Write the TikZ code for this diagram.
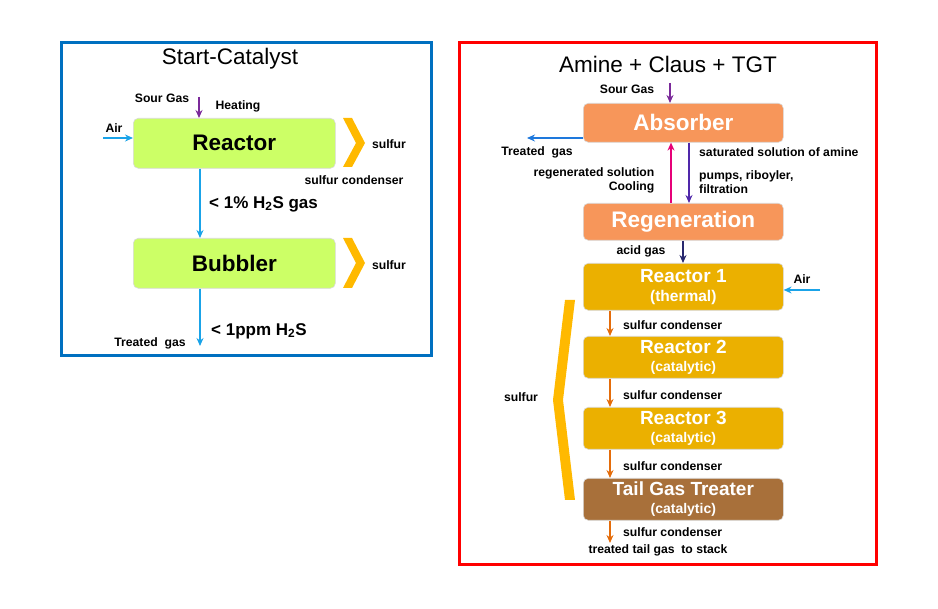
\documentclass[tikz,border=0pt]{standalone}
\usepackage{fontspec}
\setmainfont{Liberation Sans}
\usetikzlibrary{arrows.meta}
\definecolor{lime}{HTML}{CCFF66}
\definecolor{salmon}{HTML}{F7965A}
\definecolor{gold}{HTML}{EBB000}
\definecolor{brownish}{HTML}{A8703A}
\definecolor{chev}{HTML}{FFB900}
\definecolor{sky}{HTML}{1AA3E8}
\definecolor{purp}{HTML}{7B2A9A}
\definecolor{ora}{HTML}{E46C0A}
\definecolor{blueL}{HTML}{0070C0}
\definecolor{blueT}{HTML}{1E78DC}
\definecolor{pinkA}{HTML}{E60078}
\definecolor{violA}{HTML}{5028AA}
\definecolor{navyA}{HTML}{28286E}
\begin{document}
\begin{tikzpicture}[x=1pt,y=-1pt,
 box/.style={rounded corners=5pt,draw=black!15,line width=0.6pt,inner sep=0pt,anchor=north west,minimum width=200pt},
 lbl/.style={font=\bfseries\fontsize{12.2}{14}\selectfont,inner sep=1pt},
 wt/.style={white,font=\bfseries\fontsize{19}{21}\selectfont,align=center},
 sub/.style={font=\fontsize{15}{17}\selectfont},
 arr/.style={-{Stealth[length=8pt,width=7pt]},line width=1.6pt},
 ch/.style={fill=chev,draw=none}]
\useasboundingbox (0,0) rectangle (938,609);
% left panel
\draw[line width=3pt,blueL] (61,43) rectangle (431,356);
\node[font=\fontsize{22.5}{26}\selectfont] (t1) at (230,59) {Start-Catalyst};
\node[box,fill=lime,minimum width=202pt,minimum height=50pt] (re) at (133,118) {};
\node at (re.center) {\bfseries\fontsize{22.5}{26}\selectfont Reactor};
\node[box,fill=lime,minimum width=202pt,minimum height=50pt] (bu) at (133,238) {};
\node at (bu.center) {\bfseries\fontsize{22.5}{26}\selectfont Bubbler};
\fill[ch] (343,118)--(352,118)--(365,143)--(352,167)--(343,167)--(356,143)--cycle;
\fill[ch] (343,238)--(352,238)--(365,263)--(352,288)--(343,288)--(356,263)--cycle;
\node[lbl] (s1) at (389,144) {sulfur};
\node[lbl] (s2) at (389,265) {sulfur};
\node[lbl] (sc) at (354,180) {sulfur condenser};
\node[lbl] (sg) at (162,98) {Sour Gas};
\node[lbl] (he) at (238,106) {Heating};
\node[lbl] (air) at (114,128) {Air};
\coordinate (sgs) at (199,97); \coordinate (sge) at (199,118);
\draw[arr,purp] (sgs)--(sge);
\coordinate (airs) at (103,138);
\draw[arr,sky] (airs)--(re.west|-airs);
\draw[arr,sky] (re.south-|200,0)--(bu.north-|200,0);
\node[lbl,anchor=west,font=\bfseries\fontsize{17}{19}\selectfont] (g1) at (208,204) {< 1\% H\textsubscript{2}S gas};
\coordinate (tg) at (200,346);
\draw[arr,sky] (bu.south-|200,0)--(tg);
\node[lbl,anchor=west,font=\bfseries\fontsize{17}{19}\selectfont] (g2) at (210,331) {< 1ppm H\textsubscript{2}S};
\node[lbl] (tgl) at (150,343) {Treated\ \ gas};
% right panel
\draw[line width=3pt,red] (459,43) rectangle (876,565);
\node[font=\fontsize{22.5}{26}\selectfont] (t2) at (668,64) {Amine + Claus + TGT};
\node[box,fill=salmon,minimum height=39pt] (ab) at (583,103) {};
\node[wt,font=\bfseries\fontsize{22.5}{26}\selectfont] at (ab.center) {Absorber};
\node[box,fill=salmon,minimum height=37pt] (rg) at (583,203) {};
\node[wt,font=\bfseries\fontsize{22.5}{26}\selectfont] at (rg.center) {Regeneration};
\node[box,fill=gold,minimum height=47pt] (r1) at (583,263) {};
\node[wt] at (r1.center) {Reactor 1\\[-2pt]{\fontsize{15.5}{17}\selectfont (thermal)}};
\node[box,fill=gold,minimum height=42pt] (r2) at (583,336) {};
\node[wt] at (r2.center) {Reactor 2\\[-3pt]{\fontsize{14}{16}\selectfont (catalytic)}};
\node[box,fill=gold,minimum height=42pt] (r3) at (583,407) {};
\node[wt] at (r3.center) {Reactor 3\\[-3pt]{\fontsize{14}{16}\selectfont (catalytic)}};
\node[box,fill=brownish,minimum height=42pt] (tt) at (583,478) {};
\node[wt] at (tt.center) {Tail Gas Treater\\[-3pt]{\fontsize{14}{16}\selectfont (catalytic)}};
\fill[ch] (565,300)--(575,300)--(563,400)--(575,500)--(565,500)--(553,400)--cycle;
\node[lbl] (sul) at (521,397) {sulfur};
\node[lbl] (sg2) at (627,89) {Sour Gas};
\coordinate (sg2s) at (670,83);
\draw[arr,purp] (sg2s)--(ab.north-|670,0);
\coordinate (tgs) at (527,138);
\draw[arr,blueT] (ab.west|-tgs)--(tgs);
\node[lbl] (tg2) at (537,152) {Treated\ \ gas};
\draw[arr,pinkA] (rg.north-|671,0)--(ab.south-|671,0);
\draw[arr,violA] (ab.south-|689,0)--(rg.north-|689,0);
\node[lbl,anchor=west] (ssa) at (698,152) {saturated solution of amine};
\node[lbl,anchor=west,align=left] (pr) at (698,182) {pumps, riboyler,\\filtration};
\node[lbl,align=right] (rs) at (594,180) {regenerated solution\\Cooling};
\draw[arr,navyA] (rg.south-|683,0)--(r1.north-|683,0);
\node[lbl] (ag) at (641,251) {acid gas};
\node[lbl] (air2) at (802,279) {Air};
\coordinate (a2s) at (820,290);
\draw[arr,sky] (a2s)--(r1.east|-a2s);
\draw[arr,ora] (r1.south-|610,0)--(r2.north-|610,0);
\draw[arr,ora] (r2.south-|610,0)--(r3.north-|610,0);
\draw[arr,ora] (r3.south-|610,0)--(tt.north-|610,0);
\coordinate (tte) at (610,543);
\draw[arr,ora] (tt.south-|610,0)--(tte);
\node[lbl,anchor=west] (c1) at (622,325) {sulfur condenser};
\node[lbl,anchor=west] (c2) at (622,395) {sulfur condenser};
\node[lbl,anchor=west] (c3) at (622,466) {sulfur condenser};
\node[lbl,anchor=west] (c4) at (622,532) {sulfur condenser};
\node[lbl] (st) at (658,550) {treated tail gas\ \ to stack};
\end{tikzpicture}
\end{document}
